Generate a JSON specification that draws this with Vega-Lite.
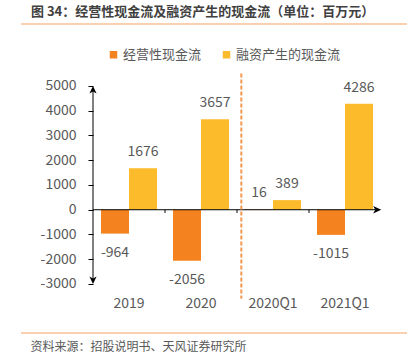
{
  "$schema": "https://vega.github.io/schema/vega-lite/v6.json",
  "width": 386,
  "height": 309,
  "autosize": {"type": "none"},
  "padding": {"left": 21, "top": 24, "right": 13, "bottom": 24},
  "background": "white",
  "config": {
    "view": {"stroke": null},
    "font": "Noto Sans CJK SC",
    "locale": {"number": {"decimal": ".", "thousands": ",", "grouping": [3], "currency": ["", ""], "minus": "-"}}
  },
  "title": {
    "text": "图 34：经营性现金流及融资产生的现金流（单位：百万元）",
    "anchor": "start",
    "frame": "group",
    "dx": 10,
    "offset": 4,
    "fontSize": 13,
    "fontWeight": "bold",
    "color": "#404040",
    "font": "Noto Sans CJK SC"
  },
  "data": {
    "values": [
      {"period": "2019", "series": "经营性现金流", "value": -964},
      {"period": "2019", "series": "融资产生的现金流", "value": 1676},
      {"period": "2020", "series": "经营性现金流", "value": -2056},
      {"period": "2020", "series": "融资产生的现金流", "value": 3657},
      {"period": "2020Q1", "series": "经营性现金流", "value": 16},
      {"period": "2020Q1", "series": "融资产生的现金流", "value": 389},
      {"period": "2021Q1", "series": "经营性现金流", "value": -1015},
      {"period": "2021Q1", "series": "融资产生的现金流", "value": 4286}
    ]
  },
  "layer": [
    {
      "data": {"values": [{}]},
      "mark": {"type": "rule", "color": "#F8C196", "strokeWidth": 1.5},
      "encoding": {"y": {"datum": 7505, "type": "quantitative"}}
    },
    {
      "data": {"values": [{}]},
      "mark": {"type": "rule", "color": "#F8C196", "strokeWidth": 1.5},
      "encoding": {"y": {"datum": -4980, "type": "quantitative"}}
    },
    {
      "mark": {"type": "bar"},
      "encoding": {
        "x": {
          "field": "period",
          "type": "nominal",
          "scale": {"domain": ["2019", "2020", "2020Q1", "2021Q1"], "range": [72, 360], "paddingInner": 0, "paddingOuter": 0},
          "axis": {
            "orient": "bottom",
            "offset": -37,
            "domain": false,
            "ticks": false,
            "labelPadding": 0,
            "labelAngle": 0,
            "labelFontSize": 14,
            "labelColor": "#595959",
            "title": "资料来源：招股说明书、天风证券研究所",
            "titleFontSize": 12,
            "titleFontWeight": "normal",
            "titleColor": "#595959",
            "titleAnchor": "start",
            "titleAlign": "left",
            "titleBaseline": "alphabetic",
            "titleX": 9,
            "titleY": 54
          }
        },
        "xOffset": {
          "field": "series",
          "type": "nominal",
          "scale": {"domain": ["经营性现金流", "融资产生的现金流"], "paddingOuter": 0.2857, "paddingInner": 0}
        },
        "y": {
          "field": "value",
          "type": "quantitative",
          "scale": {"domain": [-4980, 7505], "nice": false, "zero": true},
          "axis": {
            "values": [-3000, -2000, -1000, 0, 1000, 2000, 3000, 4000, 5000],
            "tickCount": 30,
            "format": "d",
            "labelOverlap": false,
            "offset": -72,
            "domain": false,
            "grid": false,
            "tickColor": "#000000",
            "tickSize": 5,
            "labelPadding": 12,
            "labelFontSize": 14,
            "labelColor": "#595959",
            "title": null
          }
        },
        "color": {
          "field": "series",
          "type": "nominal",
          "scale": {"domain": ["经营性现金流", "融资产生的现金流"], "range": ["#F4821F", "#FBBB2A"]},
          "legend": {
            "orient": "none",
            "legendX": 86,
            "legendY": 24,
            "direction": "horizontal",
            "title": null,
            "symbolType": "square",
            "symbolSize": 56,
            "symbolStrokeWidth": 0,
            "labelFontSize": 13,
            "labelColor": "#595959",
            "columnPadding": 18,
            "labelOffset": 3,
            "padding": 0
          }
        }
      }
    },
    {
      "mark": {"type": "text", "baseline": "alphabetic", "dy": -12, "fontSize": 14, "color": "#595959"},
      "transform": [{"filter": "datum.value >= 0"}],
      "encoding": {
        "x": {"field": "period", "type": "nominal"},
        "xOffset": {"field": "series", "type": "nominal"},
        "y": {"field": "value", "type": "quantitative"},
        "text": {"field": "value", "type": "quantitative", "format": "d"}
      }
    },
    {
      "mark": {"type": "text", "baseline": "alphabetic", "dy": 23.5, "fontSize": 14, "color": "#595959"},
      "transform": [{"filter": "datum.value < 0"}],
      "encoding": {
        "x": {"field": "period", "type": "nominal"},
        "xOffset": {"field": "series", "type": "nominal"},
        "y": {"field": "value", "type": "quantitative"},
        "text": {"field": "value", "type": "quantitative", "format": "d"}
      }
    },
    {
      "data": {"values": [{}]},
      "mark": {"type": "rule", "color": "#000000", "strokeWidth": 1},
      "encoding": {
        "x": {"datum": "2019", "type": "nominal", "bandPosition": 0},
        "x2": {"datum": "2021Q1", "bandPosition": 0.97},
        "y": {"datum": 0, "type": "quantitative"}
      }
    },
    {
      "data": {"values": [{}]},
      "mark": {"type": "rule", "color": "#000000", "strokeWidth": 1},
      "encoding": {
        "x": {"datum": "2019", "type": "nominal", "bandPosition": 0},
        "y": {"datum": -2900, "type": "quantitative"},
        "y2": {"datum": 4900}
      }
    },
    {
      "transform": [{"filter": "datum.series == '经营性现金流' && datum.period != '2019'"}],
      "mark": {"type": "rule", "color": "#000000", "strokeWidth": 1},
      "encoding": {
        "x": {"field": "period", "type": "nominal", "bandPosition": 0},
        "y": {"datum": 0, "type": "quantitative"},
        "y2": {"datum": -130}
      }
    },
    {
      "data": {"values": [{}]},
      "mark": {"type": "point", "shape": "M0,-1L0.9,0.9L0,0.4L-0.9,0.9Z", "size": 64, "filled": true, "color": "#000000", "opacity": 1},
      "encoding": {
        "x": {"datum": "2019", "type": "nominal", "bandPosition": 0},
        "y": {"datum": 4838, "type": "quantitative"}
      }
    },
    {
      "data": {"values": [{}]},
      "mark": {"type": "point", "shape": "M0,1L0.9,-0.9L0,-0.4L-0.9,-0.9Z", "size": 64, "filled": true, "color": "#000000", "opacity": 1},
      "encoding": {
        "x": {"datum": "2019", "type": "nominal", "bandPosition": 0},
        "y": {"datum": -2838, "type": "quantitative"}
      }
    },
    {
      "data": {"values": [{}]},
      "mark": {"type": "point", "shape": "M1,0L-0.9,-0.9L-0.4,0L-0.9,0.9Z", "size": 72, "filled": true, "color": "#000000", "opacity": 1},
      "encoding": {
        "x": {"datum": "2021Q1", "type": "nominal", "bandPosition": 0.944},
        "y": {"datum": 0, "type": "quantitative"}
      }
    },
    {
      "data": {"values": [{}]},
      "mark": {"type": "rule", "color": "#F39A52", "strokeWidth": 2, "strokeDash": [4, 2]},
      "encoding": {
        "x": {"datum": "2020Q1", "type": "nominal", "bandPosition": 0.06},
        "y": {"datum": 5500, "type": "quantitative"},
        "y2": {"datum": -3600}
      }
    }
  ]
}
